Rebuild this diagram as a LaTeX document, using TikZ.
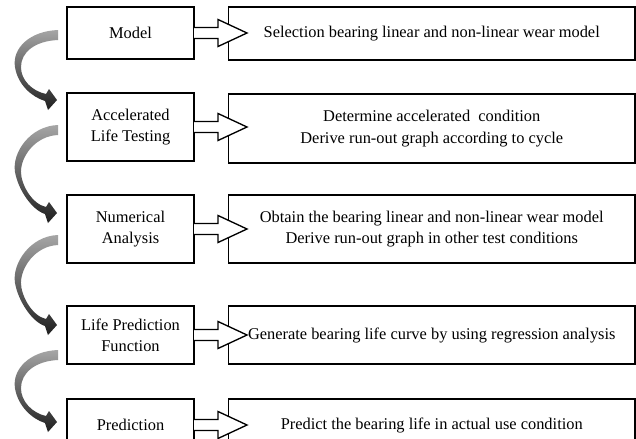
\documentclass[tikz,border=0pt]{standalone}
\usepackage{fontspec}
\setmainfont{Liberation Serif}
\usetikzlibrary{calc}
\newcommand\bendarrow[2]{%
  \path ($(#1)!0.53!(#2)$) coordinate (bmid);
  \shade[bendshade] (#1) .. controls ($(#1)+(-28,1)$) and ($(bmid)+(-45.5,-19)$) .. ($(bmid)+(-42.5,0)$)
    .. controls ($(bmid)+(-39.5,18)$) and ($(#2)+(-25,-3)$) .. ($(#2)+(-12,1)$)
    -- ($(#2)+(-9,10)$) -- (#2) -- ($(#2)+(-8,-11)$) -- ($(#2)+(-11,-6)$)
    .. controls ($(#2)+(-25,-9)$) and ($(bmid)+(-36.5,13)$) .. ($(bmid)+(-36.5,0)$)
    .. controls ($(bmid)+(-36.5,-15)$) and ($(#1)+(-23,11)$) .. ($(#1)+(0,10)$) -- cycle;
}
\newcommand\hollowarrow[2]{%
  \filldraw[hollowstyle] ($(#1.east)+(0,-5.5)$) -- ++(24,0) -- ++(0,-8) -- ($(#1.east)+(53,0)$)
    -- ($(#1.east)+(24,13.5)$) -- ++(0,-8) -- ($(#1.east)+(0,5.5)$);
}
\begin{document}
\begin{tikzpicture}[x=0.75pt,y=-0.75pt,
  every node/.style={font=\fontsize{12.3}{16}\selectfont, align=center, inner sep=0pt, outer sep=0pt},
  leftbox/.style={draw, line width=1pt, minimum width=95.25pt},
  rightbox/.style={draw, line width=1pt, minimum width=304.9pt},
  hollowstyle/.style={draw=black, fill=white, line width=1pt, line join=miter},
  bendshade/.style={top color=black!35, middle color=black!20, bottom color=black!88, shading angle=0}]
\useasboundingbox (0,0) rectangle (636,439);
\clip (0,0) rectangle (636,439);
\fill[white] (0,0) rectangle (636,439);
% left boxes
\node[leftbox, minimum height=39pt] (m1) at (130.5,33) {Model};
\node[leftbox, minimum height=51pt] (m2) at (130.5,127) {Accelerated\\Life Testing};
\node[leftbox, minimum height=51pt] (m3) at (130.5,229) {Numerical\\Analysis};
\node[leftbox, minimum height=43.5pt] (m4) at (130.5,335) {Life Prediction\\Function};
\node[leftbox, minimum height=39pt] (m5) at (130.5,425) {Prediction};
% right boxes
\node[rightbox, minimum height=39.75pt] (r1) at (431.75,33.5) {Selection bearing linear and non-linear wear model};
\node[rightbox, minimum height=51.75pt] (r2) at (431.75,128.5) {Determine accelerated\ \ condition\\Derive run-out graph according to cycle};
\node[rightbox, minimum height=51pt] (r3) at (431.75,229) {Obtain the bearing linear and non-linear wear model\\Derive run-out graph in other test conditions};
\node[rightbox, minimum height=43.5pt] (r4) at (431.75,335) {Generate bearing life curve by using regression analysis};
\node[rightbox, minimum height=39pt] (r5) at (431.75,425) {Predict the bearing life in actual use condition};
% hollow arrows
\hollowarrow{m1}{r1}
\hollowarrow{m2}{r2}
\hollowarrow{m3}{r3}
\hollowarrow{m4}{r4}
\hollowarrow{m5}{r5}
% curved arrows
\coordinate (s1) at ($(m1.west)+(-9,-3)$);
\coordinate (t1) at ($(m2.west)+(-10,-27)$);
\coordinate (s2) at ($(m2.west)+(-9,-2)$);
\coordinate (t2) at ($(m3.west)+(-10,-16)$);
\coordinate (s3) at ($(m3.west)+(-9,6)$);
\coordinate (t3) at ($(m4.west)+(-10,-10)$);
\coordinate (s4) at ($(m4.west)+(-9,15)$);
\coordinate (t4) at ($(m5.west)+(-10,-3)$);
\bendarrow{s1}{t1}
\bendarrow{s2}{t2}
\bendarrow{s3}{t3}
\bendarrow{s4}{t4}
\end{tikzpicture}
\end{document}
